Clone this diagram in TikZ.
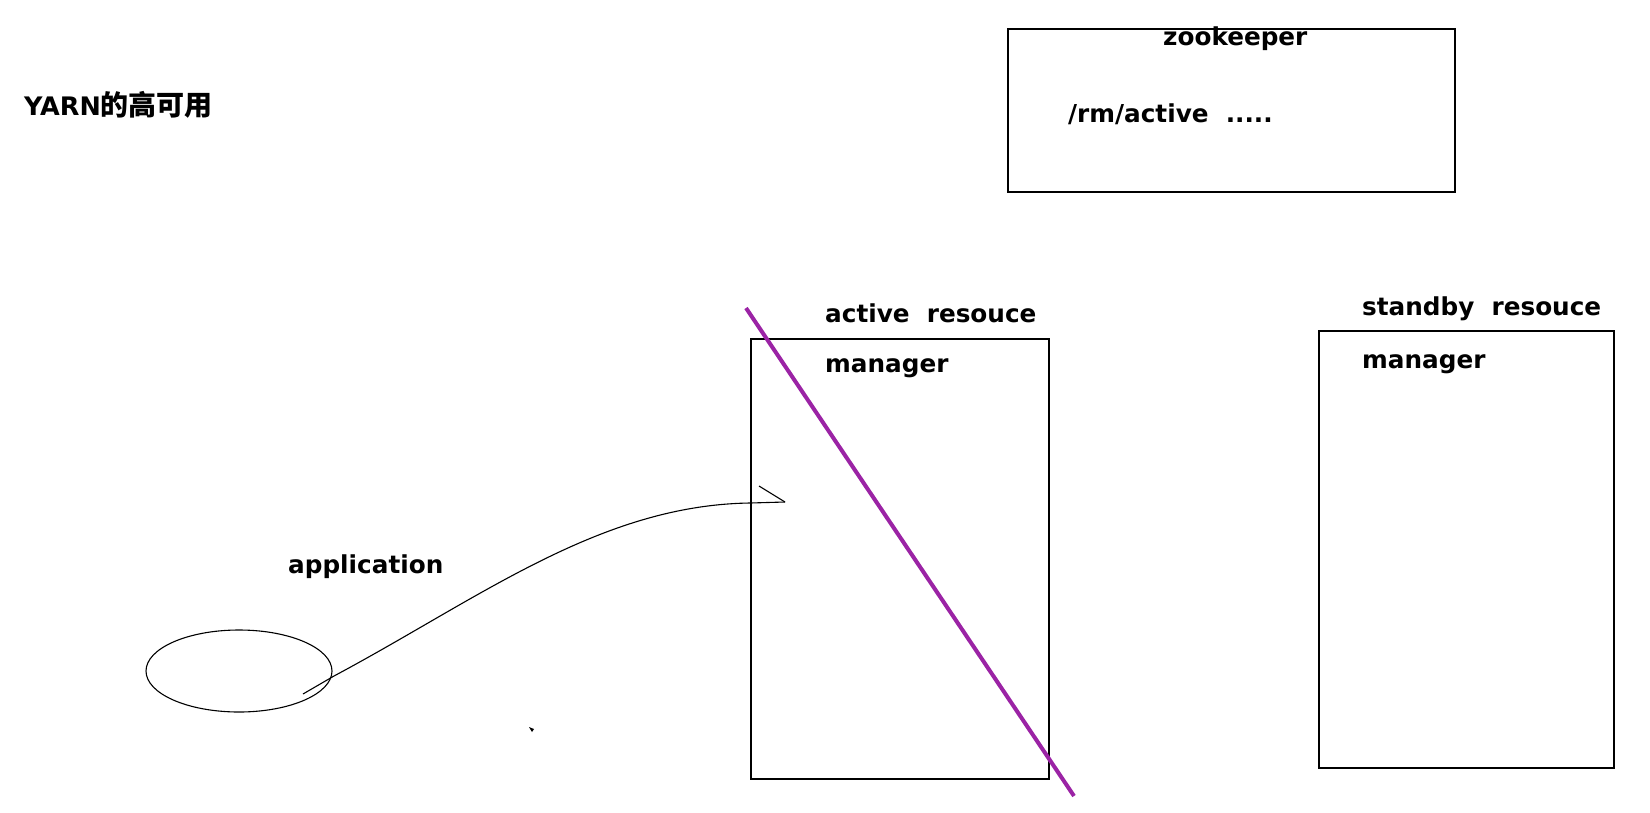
\documentclass[tikz,border=0pt]{standalone}
\usepackage{fontspec}
\setmainfont{DejaVu Sans}
\newfontfamily\cjk{Noto Sans CJK SC}
\usetikzlibrary{shapes.geometric}
\definecolor{strike}{RGB}{155,35,165}
\begin{document}
\begin{tikzpicture}[x=1pt,y=-1pt,
  lbl/.style={inner sep=0pt,anchor=base west,font=\fontsize{24.7}{28}\selectfont\bfseries},
  box/.style={draw,line width=1.5pt,rectangle,inner sep=0pt},
  thin/.style={line width=1.1pt}]
\useasboundingbox[fill=white] (0,0) rectangle (1650,812);
% boxes
\node[box,minimum width=447,minimum height=163] (zk) at (1231.5,110.5) {};
\node[box,minimum width=298,minimum height=440] (arm) at (900,559) {};
\node[box,minimum width=295,minimum height=437] (srm) at (1466.5,549.5) {};
\node[draw,ellipse,thin,minimum width=186,minimum height=82,inner sep=0pt] (app) at (239,671) {};
% texts
\node[lbl,font=\fontsize{25.5}{28}\selectfont\bfseries] (title) at (24,115) {YARN{\cjk\fontsize{28}{30}\selectfont 的高可用}};
\node[lbl] (zkt) at (1163,45) {zookeeper};
\node[lbl] (rma) at (1068,122) {/rm/active~~.....};
\node[lbl] (art) at (825,322) {active~~resouce};
\node[lbl] (arm2) at (825,372) {manager};
\node[lbl] (srt) at (1362,315) {standby~~resouce};
\node[lbl] (srm2) at (1362,368) {manager};
\node[lbl] (appt) at (288,573) {application};
% connector
\coordinate (cs) at (303,694);
\coordinate (c1) at (334,676);
\coordinate (ce) at (785,502);
\coordinate (ch) at (759,486);
\draw[thin] (cs) -- (c1) .. controls (480,598) and (600,505) .. (arm.west |- 0,503) -- (ce);
\draw[thin] (ch) -- (ce);
% stray mark
\fill (529,727) -- (534,729) -- (532,732) -- cycle;
% strike-through line
\coordinate (p1) at (746,308);
\coordinate (p2) at (1074,796);
\draw[strike,line width=4pt] (p1) -- (p2);
\end{tikzpicture}
\end{document}
